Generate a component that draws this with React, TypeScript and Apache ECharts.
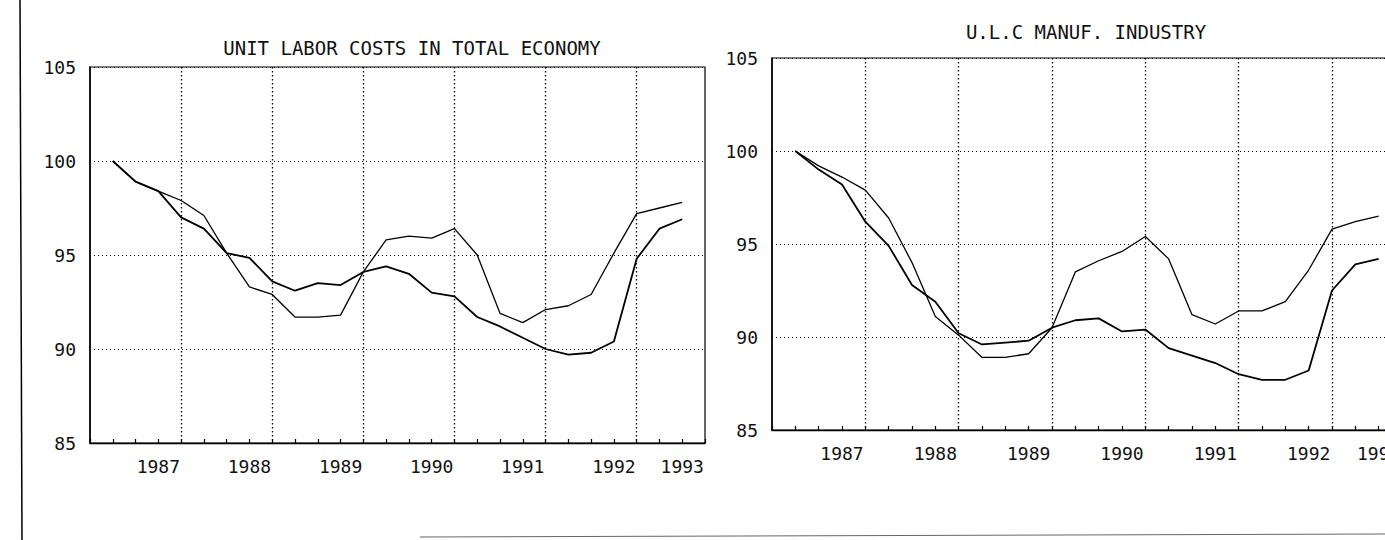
import React, { useEffect, useRef } from "react";
import * as echarts from "echarts";

// Quarterly categories, 1986Q1 .. 1992Q4
const years = [1986, 1987, 1988, 1989, 1990, 1991, 1992];
const quarters: string[] = [];
years.forEach((y) => [1, 2, 3, 4].forEach((q) => quarters.push(`${y}Q${q}`)));

// Year tick labels, as printed on the original (placed just before each year's gridline)
const yearLabels: Record<string, string> = {
  "1986Q4": "1987",
  "1987Q4": "1988",
  "1988Q4": "1989",
  "1989Q4": "1990",
  "1990Q4": "1991",
  "1991Q4": "1992",
  "1992Q3": "1993",
};

// Data run from 1986Q2 to 1992Q3 (index 1986Q2 = 100)
const dataQuarters = quarters.slice(1, 27);

const titleTotal = "UNIT LABOR COSTS IN TOTAL ECONOMY";
const titleManuf = "U.L.C MANUF. INDUSTRY";

// Unit labour costs, total economy
const totalUpper = [
  100, 98.9, 98.4, 97.9, 97.1, 95.1, 93.3, 92.9, 91.7, 91.7, 91.8, 94.1, 95.8,
  96.0, 95.9, 96.4, 95.0, 91.9, 91.4, 92.1, 92.3, 92.9, 95.1, 97.2, 97.5, 97.8,
];
const totalLower = [
  100, 98.9, 98.4, 97.0, 96.4, 95.1, 94.85, 93.6, 93.1, 93.5, 93.4, 94.1, 94.4,
  94.0, 93.0, 92.8, 91.7, 91.2, 90.6, 90.0, 89.7, 89.8, 90.4, 94.8, 96.4, 96.9,
];

// Unit labour costs, manufacturing industry
const manufUpper = [
  100, 99.2, 98.6, 97.9, 96.4, 94.0, 91.1, 90.1, 88.9, 88.9, 89.1, 90.5, 93.5,
  94.1, 94.6, 95.4, 94.2, 91.2, 90.7, 91.4, 91.4, 91.9, 93.6, 95.8, 96.2, 96.5,
];
const manufLower = [
  100, 99.0, 98.2, 96.2, 94.9, 92.8, 91.9, 90.2, 89.6, 89.7, 89.8, 90.5, 90.9,
  91.0, 90.3, 90.4, 89.4, 89.0, 88.6, 88.0, 87.7, 87.7, 88.2, 92.5, 93.9, 94.2,
];

const yMin = 85;
const yMax = 105;
const yStep = 5;

const mono = "'DejaVu Sans Mono', 'Liberation Mono', monospace";

function pairs(values: number[]) {
  return dataQuarters.map((q, i) => [q, values[i]]);
}

function xAxisFor(gridIndex: number) {
  return {
    type: "category",
    gridIndex,
    data: quarters,
    boundaryGap: false,
    axisLine: { show: true, lineStyle: { color: "#000", width: 1.3 } },
    axisTick: {
      show: true,
      inside: true,
      length: 4,
      interval: 0,
      lineStyle: { color: "#000", width: 1.2 },
    },
    axisLabel: {
      interval: (_i: number, v: string) => v in yearLabels,
      formatter: (v: string) => yearLabels[v] ?? "",
      fontFamily: mono,
      fontSize: 18,
      color: "#111",
      margin: 14,
    },
    splitLine: {
      show: true,
      interval: (i: number) => i > 0 && i % 4 === 0,
      lineStyle: { color: "#000", type: [1.5, 2.5], width: 1.3 },
    },
  };
}

function yAxisFor(gridIndex: number) {
  return {
    type: "value",
    gridIndex,
    min: yMin,
    max: yMax,
    interval: yStep,
    axisLine: { show: true, lineStyle: { color: "#000", width: 1.5 } },
    axisTick: { show: false },
    axisLabel: {
      fontFamily: mono,
      fontSize: 18,
      color: "#111",
      margin: 14,
    },
    splitLine: {
      show: true,
      lineStyle: { color: "#000", type: [1, 3], width: 1 },
    },
  };
}

function lineSeries(values: number[], idx: number, width: number) {
  return {
    type: "line",
    xAxisIndex: idx,
    yAxisIndex: idx,
    data: pairs(values),
    symbol: "none",
    lineStyle: { color: "#000", width },
    z: 5,
  };
}

export default function App() {
  const ref = useRef<HTMLDivElement>(null);

  useEffect(() => {
    if (!ref.current) return;
    const chart = echarts.init(ref.current, undefined, { renderer: "svg" });
    chart.setOption({
      animation: false,
      backgroundColor: "#fff",
      grid: [
        {
          left: 90,
          top: 67,
          width: 615,
          height: 376,
          show: true,
          borderColor: "#000",
          borderWidth: 1.2,
        },
        {
          left: 772,
          top: 58,
          width: 630,
          height: 372,
          show: true,
          borderColor: "#000",
          borderWidth: 1.2,
        },
      ],
      xAxis: [xAxisFor(0), xAxisFor(1)],
      yAxis: [yAxisFor(0), yAxisFor(1)],
      series: [
        lineSeries(totalUpper, 0, 1.3),
        lineSeries(totalLower, 0, 1.8),
        lineSeries(manufUpper, 1, 1.3),
        lineSeries(manufLower, 1, 1.8),
      ],
      graphic: [
        {
          type: "text",
          x: 412,
          y: 48,
          style: {
            text: titleTotal,
            fontFamily: mono,
            fontSize: 19,
            fill: "#111",
            align: "center",
            verticalAlign: "middle",
          },
        },
        {
          type: "text",
          x: 1086,
          y: 32,
          style: {
            text: titleManuf,
            fontFamily: mono,
            fontSize: 19,
            fill: "#111",
            align: "center",
            verticalAlign: "middle",
          },
        },
        {
          type: "line",
          shape: { x1: 20, y1: 0, x2: 22, y2: 540 },
          style: { stroke: "#000", lineWidth: 1.5 },
        },
        {
          type: "line",
          shape: { x1: 420, y1: 537, x2: 1385, y2: 534 },
          style: { stroke: "#666", lineWidth: 1 },
        },
      ],
    });
    return () => chart.dispose();
  }, []);

  return (
    <div
      style={{
        position: "fixed",
        left: 0,
        top: 0,
        width: 1385,
        height: 540,
        overflow: "hidden",
        background: "#fff",
      }}
    >
      <div ref={ref} style={{ width: 1430, height: 540 }} />
    </div>
  );
}
